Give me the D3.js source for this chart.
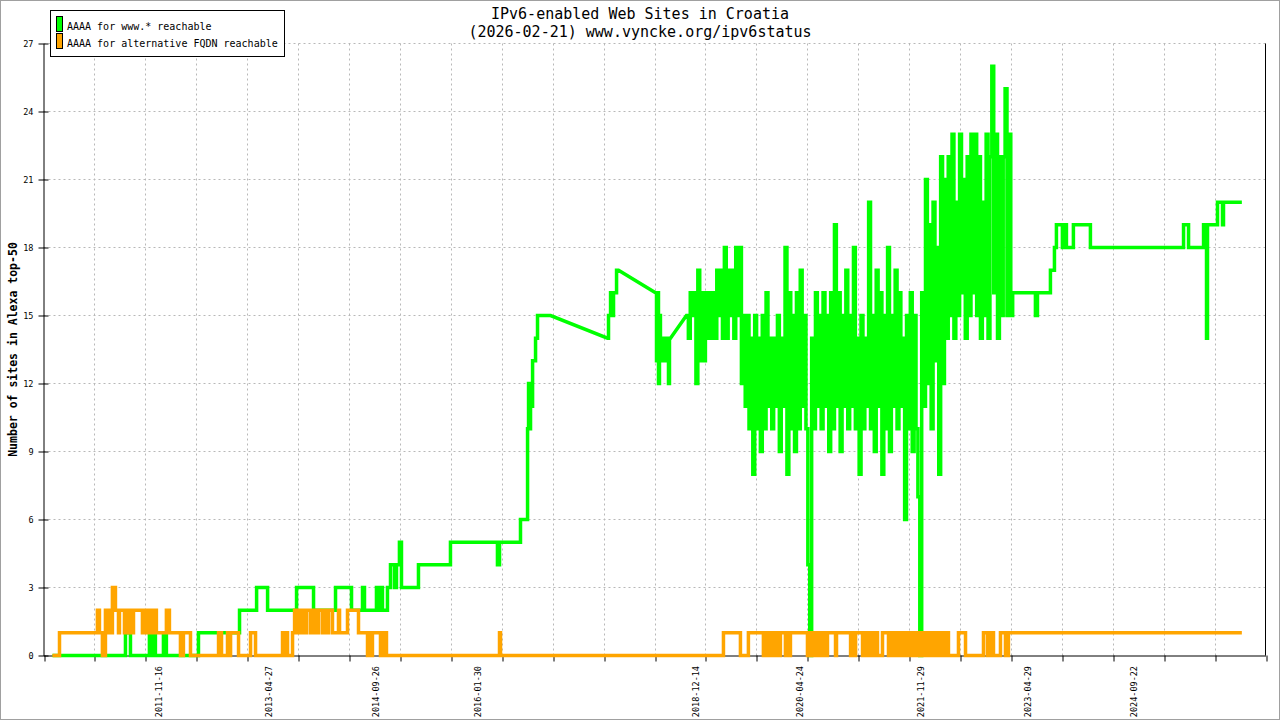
<!DOCTYPE html>
<html>
<head>
<meta charset="utf-8">
<script src="https://cdn.jsdelivr.net/npm/d3@7"></script>
<style>
  body { margin: 0; background: #fff; }
  svg { display: block; }
  text { font-family: "DejaVu Sans Mono", monospace; fill: #000; }
</style>
</head>
<body>
<svg id="chart" width="1280" height="720"></svg>
<script>
// ---- data (dates as decimal years, values = number of sites) ----
const titleLines = ["IPv6-enabled Web Sites in Croatia", "(2026-02-21) www.vyncke.org/ipv6status"];
const yTitle = "Number of sites in Alexa top-50";
const seriesNames = ["AAAA for www.* reachable", "AAAA for alternative FQDN reachable"];
const seriesColors = ["#00ff00", "#ffa500"];

const yTicks = [0, 3, 6, 9, 12, 15, 18, 21, 24, 27];
const xLabelDates = ["2011-11-16", "2013-04-27", "2014-09-26", "2016-01-30", "2018-12-14",
  "2020-04-24", "2021-11-29", "2023-04-29", "2024-09-22"];
const xDomainYears = [2010.345, 2026.452];
const xGridIntervals = 24;

// green: change points [year, value], step-wise; gaps between runs are drawn straight
const greenRun1 = [[2010.464,0],[2011.426,1],[2011.492,0],[2011.742,1],[2011.782,0],[2011.795,1],
  [2011.821,0],[2011.927,1],[2011.966,0],[2012.388,1],[2012.928,2],[2013.153,3],[2013.298,2],
  [2013.680,3],[2013.904,2],[2014.194,3],[2014.405,2],[2014.550,3],[2014.576,2],[2014.734,3],
  [2014.761,2],[2014.787,3],[2014.813,2],[2014.879,3],[2014.919,4],[2014.972,3],[2014.998,4],
  [2015.037,5],[2015.064,3],[2015.288,4],[2015.710,5],[2016.329,4],[2016.356,5],[2016.632,6],
  [2016.725,10],[2016.738,12],[2016.751,10],[2016.764,12],[2016.777,11],[2016.791,13],
  [2016.830,14],[2016.856,15],[2017.028,15]];
const greenRun2 = [[2017.779,14],[2017.792,15],[2017.819,16],[2017.845,15],[2017.858,16],
  [2017.898,17],[2017.924,17]];
const greenRun3 = [[2018.412,16],[2018.425,13],[2018.438,16],[2018.451,12],[2018.464,15],
  [2018.477,13],[2018.491,14],[2018.504,13],[2018.530,14],[2018.543,13],[2018.570,14],
  [2018.583,12],[2018.596,14],[2018.609,14]];
// dense period: one reading every 0.025 year
const greenNoiseStart = 2018.820;
const greenNoiseStep = 0.025;
const greenNoise = [
  15,14,16,15,16,12,17,13,16,13, 16,14,16,14,16,14,17,15,17,14,
  18,14,17,15,17,14,18,15,18,12, 15,11,15,10,14,8,15,10,14,9,
  15,10,16,11,14,10,14,11,15,9, 14,11,18,8,16,10,15,9,16,10,
  17,11,15,10,4,0,14,10,16,11, 15,10,16,11,15,9,16,10,19,11,
  16,9,15,11,17,10,15,11,18,10, 14,8,15,10,14,11,20,10,15,9,
  17,11,16,8,15,10,18,9,15,11, 17,10,16,11,14,6,15,10,16,9,
  15,10,7,0,16,11,21,12,19,10, 20,13,18,8,22,12,21,14,22,15,
  23,14,20,15,23,16,21,14,22,15, 23,16,23,15,22,14,20,15,23,14,
  22,26,16,23,14,22,15,22,25,15, 23,15,16];
const greenRun4 = [[2023.120,16],[2023.420,15],[2023.447,16],[2023.618,17],[2023.671,18],
  [2023.697,19],[2023.776,18],[2023.789,19],[2023.829,18],[2023.921,19],[2024.145,18],
  [2025.371,19],[2025.437,18],[2025.635,19],[2025.674,14],[2025.687,19],[2025.819,20],
  [2025.885,19],[2025.898,20],[2026.140,20]];

// orange: change points [year, value]
const orangeSteps = [[2010.463,0],[2010.556,1],[2011.056,2],[2011.083,1],[2011.122,0],[2011.162,2],
  [2011.188,1],[2011.215,2],[2011.228,1],[2011.254,3],[2011.294,2],[2011.334,1],[2011.347,2],
  [2011.413,1],[2011.426,2],[2011.452,1],[2011.492,2],[2011.518,1],[2011.532,2],[2011.650,1],
  [2011.690,2],[2011.716,1],[2011.755,2],[2011.782,1],[2011.808,2],[2011.834,1],[2011.966,2],
  [2012.006,1],[2012.151,0],[2012.190,1],[2012.283,0],[2012.652,1],[2012.691,0],[2012.770,1],
  [2012.797,0],[2012.810,1],[2012.915,0],[2013.073,1],[2013.139,0],[2013.495,1],[2013.508,0],
  [2013.522,1],[2013.561,0],[2013.627,1],[2013.654,2],[2013.667,1],[2013.693,2],[2013.733,1],
  [2013.759,2],[2013.798,1],[2013.812,2],[2013.864,1],[2013.891,2],[2013.930,1],[2013.970,2],
  [2014.022,1],[2014.036,2],[2014.075,1],[2014.102,2],[2014.154,1],[2014.233,2],[2014.247,1],
  [2014.352,2],[2014.497,1],[2014.616,0],[2014.629,1],[2014.642,0],[2014.655,1],[2014.668,0],
  [2014.681,1],[2014.787,0],[2014.800,1],[2014.826,0],[2014.853,1],[2014.866,0],[2016.356,1],
  [2016.369,0],[2019.308,1],[2019.532,0],[2019.637,1],[2019.835,0],[2019.848,1],[2019.861,0],
  [2019.874,1],[2019.914,0],[2019.927,1],[2019.953,0],[2019.967,1],[2019.993,0],[2020.019,1],
  [2020.032,0],[2020.059,1],[2020.125,0],[2020.151,1],[2020.164,0],[2020.191,1],[2020.415,0],
  [2020.454,1],[2020.468,0],[2020.494,1],[2020.507,0],[2020.533,1],[2020.547,0],[2020.586,1],
  [2020.599,0],[2020.639,1],[2020.652,0],[2020.678,1],[2020.784,0],[2020.797,1],[2020.982,0],
  [2021.008,1],[2021.021,0],[2021.048,1],[2021.140,0],[2021.153,1],[2021.180,0],[2021.193,1],
  [2021.232,0],[2021.258,1],[2021.285,0],[2021.298,1],[2021.337,0],[2021.403,1],[2021.482,0],
  [2021.496,1],[2021.522,0],[2021.535,1],[2021.562,0],[2021.588,1],[2021.601,0],[2021.628,1],
  [2021.641,0],[2021.667,1],[2021.694,0],[2021.707,1],[2021.733,0],[2021.746,1],[2021.773,0],
  [2021.799,1],[2021.812,0],[2021.838,1],[2021.878,0],[2021.904,1],[2021.918,0],[2021.944,1],
  [2021.957,0],[2021.983,1],[2022.010,0],[2022.023,1],[2022.049,0],[2022.076,1],[2022.089,0],
  [2022.115,1],[2022.128,0],[2022.168,1],[2022.181,0],[2022.207,1],[2022.221,0],[2022.247,1],
  [2022.273,0],[2022.405,1],[2022.498,0],[2022.735,1],[2022.788,0],[2022.827,1],[2022.867,0],
  [2022.959,1],[2023.025,0],[2023.064,1],[2026.140,1]];

// ---- helpers ----
function yearToDate(v) {
  const y0 = Math.floor(v);
  const a = Date.UTC(y0, 0, 1), b = Date.UTC(y0 + 1, 0, 1);
  return new Date(a + (v - y0) * (b - a));
}

// turn change points into step-shaped points
function stepPoints(run) {
  const pts = [];
  run.forEach(([t, v], i) => {
    if (i > 0) pts.push([t, run[i - 1][1]]);
    pts.push([t, v]);
  });
  return pts;
}

const svg = d3.select("#chart");
const plot = { left: 43.5, right: 1265.5, top: 43.5, bottom: 655.5 };

const x = d3.scaleUtc()
  .domain(xDomainYears.map(yearToDate))
  .range([plot.left, plot.right]);
const y = d3.scaleLinear()
  .domain([0, 27])
  .range([plot.bottom, plot.top]);

const [d0, d1] = x.domain();
const gridDates = d3.range(xGridIntervals + 1)
  .map(k => new Date(+d0 + k * (d1 - d0) / xGridIntervals));

// outer frame
svg.append("rect")
  .attr("x", 0.5).attr("y", 0.5)
  .attr("width", 1279).attr("height", 719)
  .attr("fill", "none").attr("stroke", "#a0a0a0");

// grid
const grid = svg.append("g")
  .attr("stroke", "#b8b8b8")
  .attr("stroke-dasharray", "2,3");
grid.selectAll(".hgrid")
  .data(yTicks.filter(d => d > 0))
  .enter().append("line")
  .attr("x1", plot.left).attr("x2", plot.right)
  .attr("y1", d => y(d)).attr("y2", d => y(d));
grid.selectAll(".vgrid")
  .data(gridDates.slice(1, -1))
  .enter().append("line")
  .attr("x1", d => Math.round(x(d)) + 0.5).attr("x2", d => Math.round(x(d)) + 0.5)
  .attr("y1", plot.top).attr("y2", plot.bottom);

// axes
const yAxis = svg.append("g")
  .attr("transform", `translate(${plot.left},0)`)
  .call(d3.axisLeft(y).tickValues(yTicks).tickSize(5).tickSizeOuter(0).tickPadding(5));
yAxis.selectAll(".tick line").attr("x1", 5).attr("stroke", "#000");
yAxis.select(".domain").attr("stroke", "#000");
yAxis.selectAll(".tick text")
  .attr("font-family", "DejaVu Sans Mono")
  .attr("font-size", 8.5)
  .attr("fill", "#000");

const xAxis = svg.append("g")
  .attr("transform", `translate(0,${plot.bottom})`)
  .call(d3.axisBottom(x).tickValues(gridDates).tickFormat("").tickSize(6).tickSizeOuter(0));
xAxis.selectAll(".tick line").attr("stroke", "#000")
  .attr("transform", d => `translate(${Math.round(x(d)) + 0.5 - x(d)},0)`);
xAxis.select(".domain").attr("stroke", "#000");

// right border
svg.append("line")
  .attr("x1", plot.right).attr("x2", plot.right)
  .attr("y1", plot.top).attr("y2", plot.bottom)
  .attr("stroke", "#000");

// x labels
const parseDate = d3.utcParse("%Y-%m-%d");
svg.append("g").selectAll("text")
  .data(xLabelDates)
  .enter().append("text")
  .attr("transform", d => `translate(${x(parseDate(d))},666) rotate(-90)`)
  .attr("text-anchor", "end")
  .attr("dy", "0.35em")
  .attr("font-size", 8.5)
  .text(d => d);

// titles
svg.append("g").selectAll("text")
  .data(titleLines)
  .enter().append("text")
  .attr("x", 640)
  .attr("y", (d, i) => 19 + i * 18)
  .attr("text-anchor", "middle")
  .attr("font-size", 15)
  .text(d => d);

svg.append("text")
  .attr("transform", `translate(13,${(plot.top + plot.bottom) / 2}) rotate(-90)`)
  .attr("text-anchor", "middle")
  .attr("dy", "0.35em")
  .attr("font-size", 11.5)
  .attr("font-weight", "bold")
  .text(yTitle);

// lines
const line = d3.line()
  .x(d => x(yearToDate(d[0])))
  .y(d => y(d[1]));

const greenNoiseRun = greenNoise.map((v, i) => [greenNoiseStart + i * greenNoiseStep, v]);
const greenPoints = [greenRun1, greenRun2, greenRun3, greenNoiseRun, greenRun4]
  .flatMap(stepPoints);
const orangePoints = stepPoints(orangeSteps);

svg.append("g")
  .attr("fill", "none")
  .attr("stroke-width", 3.5)
  .attr("stroke-linejoin", "miter")
  .selectAll("path")
  .data([greenPoints, orangePoints])
  .enter().append("path")
  .attr("stroke", (d, i) => seriesColors[i])
  .attr("d", line);

// legend
const legend = svg.append("g");
legend.append("rect")
  .attr("x", 50.5).attr("y", 10.5)
  .attr("width", 234).attr("height", 46)
  .attr("fill", "#fff").attr("stroke", "#000");
const items = legend.selectAll(".item")
  .data(seriesNames)
  .enter().append("g")
  .attr("transform", (d, i) => `translate(0,${i * 17})`);
items.append("rect")
  .attr("x", 56.5).attr("y", 16.5)
  .attr("width", 6).attr("height", 15)
  .attr("fill", (d, i) => seriesColors[i])
  .attr("stroke", "#000");
items.append("text")
  .attr("x", 67).attr("y", 30)
  .attr("font-size", 10)
  .text(d => d);
</script>
</body>
</html>
